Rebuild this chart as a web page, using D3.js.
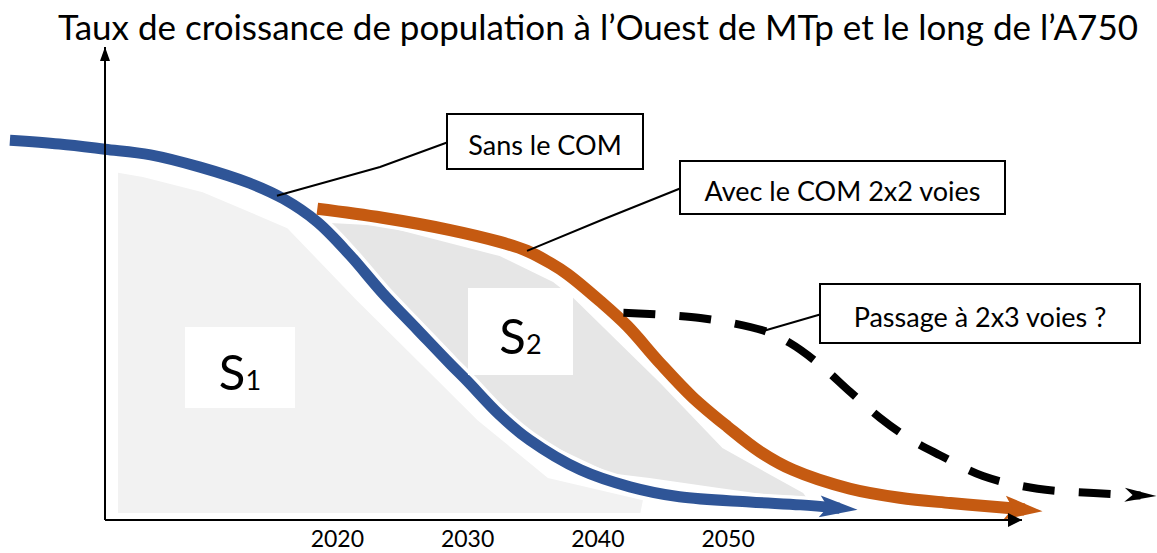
<!DOCTYPE html>
<html>
<head>
<meta charset="utf-8">
<script src="https://cdn.jsdelivr.net/npm/d3@7"></script>
<style>
  body { margin: 0; background: #fff; }
  svg { display: block; font-family: Lato, "Open Sans", sans-serif; }
</style>
</head>
<body>
<svg id="chart" width="1157" height="553"></svg>
<script>
// x = year, y = growth index (0-100, the sketch has no y scale)
var tickYears = [2020, 2030, 2040, 2050];
var xAxisFrom = 2002.2, xAxisTo = 2072.6, yAxisTop = 100;

var sansYears  = [1994.9, 1998.7, 2002.2, 2005.7, 2009.5, 2013.3, 2015.9, 2018.5, 2021.0, 2023.5, 2026.2, 2028.7, 2030.0, 2032.5, 2034.8, 2038.7, 2042.5, 2046.3, 2051.7, 2055.6, 2058.6];
var sansValues = [80.3, 79.5, 78.4, 77.2, 74.6, 71.2, 67.9, 63.0, 56.0, 48.0, 40.2, 33.0, 29.4, 22.2, 16.9, 10.6, 7.0, 4.9, 3.8, 3.2, 2.5];

var avecYears  = [2018.5, 2023.5, 2028.7, 2032.5, 2034.6, 2036.4, 2037.7, 2040.2, 2042.3, 2044.8, 2047.3, 2050.0, 2052.5, 2055.0, 2059.4, 2063.2, 2067.1, 2070.9, 2072.8];
var avecValues = [65.8, 63.9, 61.3, 58.8, 56.9, 54.3, 52.0, 46.3, 41.0, 33.2, 26.0, 19.7, 14.4, 10.6, 6.6, 4.7, 3.6, 2.7, 2.2];

var passageYears  = [2042.0, 2047.9, 2052.8, 2054.8, 2057.1, 2059.4, 2061.7, 2064.0, 2066.3, 2069.6, 2073.8, 2078.1, 2081.7];
var passageValues = [43.8, 42.7, 40.0, 37.4, 32.8, 27.1, 21.6, 17.1, 13.7, 9.3, 6.6, 5.7, 5.2];

// shaded surfaces S1 and S2, [year, value]
var s1Area = [[2003.2, 73.4], [2005.1, 72.5], [2009.7, 69.3], [2016.2, 61.7], [2021.5, 46.5], [2027.7, 29.6],
              [2030.8, 21.1], [2036.2, 8.9], [2043.5, 4.2], [2043.3, 1.5], [2003.2, 1.5]];
var s2Area = [[2019.5, 62.8], [2023.5, 62.2], [2032.5, 55.8], [2036.6, 50.3], [2038.1, 47.1], [2044.8, 29.0],
              [2049.6, 15.2], [2055.8, 5.7], [2056.2, 4.2], [2049.2, 6.8], [2044.0, 8.9], [2041.0, 9.9],
              [2035.6, 16.9], [2033.5, 20.5], [2030.8, 29.6], [2024.3, 48.2]];

var title = "Taux de croissance de population à l\u2019Ouest de MTp et le long de l\u2019A750";

var svg = d3.select("#chart");
var x = d3.scaleLinear().domain([xAxisFrom, xAxisTo]).range([105, 1022]);
var y = d3.scaleLinear().domain([0, yAxisTop]).range([520, 47]);

var zip = function (xs, ys) { return xs.map(function (d, i) { return [d, ys[i]]; }); };
var sans = zip(sansYears, sansValues),
    avec = zip(avecYears, avecValues),
    passage = zip(passageYears, passageValues);

// arrow heads
var defs = svg.append("defs");
function marker(id, d, color) {
  defs.append("marker").attr("id", id)
    .attr("markerUnits", "userSpaceOnUse").attr("orient", "auto")
    .attr("refX", 0).attr("refY", 0).attr("markerWidth", 1).attr("markerHeight", 1)
    .style("overflow", "visible")
    .append("path").attr("d", d).style("fill", color).style("stroke", "none");
}
marker("arBlue", "M-20,-11L18,0L-20,11L-12,0Z", "#2f5597");
marker("arOrange", "M-20,-12L18,0L-20,12L-12,0Z", "#c55a11");
marker("arDash", "M-16,-7L16,0L-16,7L-8,0Z", "#000");
marker("arAxisX", "M-14,-7L0,0L-14,7Z", "#000");
marker("arAxisY", "M-14,-5L0,0L-14,5Z", "#000");

// title, fitted to the sketch width
var t = svg.append("text").attr("x", 598).attr("y", 40).attr("text-anchor", "middle")
  .style("font-size", "30px").style("fill", "#000").text(title);
var tw = t.node().getComputedTextLength();
t.style("font-size", (30 * 1080 / tw) + "px");

// surfaces
var poly = d3.line().x(function (d) { return x(d[0]); }).y(function (d) { return y(d[1]); });
svg.append("path").attr("d", poly(s1Area) + "Z").style("fill", "#f2f2f2");
svg.append("path").attr("d", poly(s2Area) + "Z").style("fill", "#e6e6e6");

// curves
var curve = d3.line().x(function (d) { return x(d[0]); }).y(function (d) { return y(d[1]); })
  .curve(d3.curveCatmullRom.alpha(0.5));

var solid = [[sans, "#2f5597", 11, "arBlue"], [avec, "#c55a11", 12, "arOrange"]];
solid.forEach(function (s) {
  svg.append("path").attr("d", curve(s[0])).style("fill", "none")
    .style("stroke", "#fff").style("stroke-width", s[2] + 7);
});
solid.forEach(function (s) {
  svg.append("path").attr("d", curve(s[0])).style("fill", "none")
    .style("stroke", s[1]).style("stroke-width", s[2])
    .attr("marker-end", "url(#" + s[3] + ")");
});
svg.append("path").attr("d", curve(passage)).style("fill", "none")
  .style("stroke", "#000").style("stroke-width", 8).style("stroke-dasharray", "32,24")
  .attr("marker-end", "url(#arDash)");

// S1 / S2 labels
[[185, 327, 110, 81, "1"], [468, 288, 105, 87, "2"]].forEach(function (b) {
  svg.append("rect").attr("x", b[0]).attr("y", b[1]).attr("width", b[2]).attr("height", b[3])
    .style("fill", "#fff");
  var lt = svg.append("text").attr("x", b[0] + b[2] / 2).attr("y", b[1] + b[3] / 2 + 22)
    .attr("text-anchor", "middle").style("font-size", "49px").style("fill", "#000");
  lt.append("tspan").text("S");
  lt.append("tspan").style("font-size", "27px").text(b[4]);
});

// axes
svg.append("path")
  .attr("d", "M" + x(xAxisFrom) + "," + y(0) + "L" + x(xAxisFrom) + "," + y(yAxisTop))
  .style("stroke", "#000").style("stroke-width", 2).attr("marker-end", "url(#arAxisY)");
svg.append("path")
  .attr("d", "M" + x(xAxisFrom) + "," + y(0) + "L" + x(xAxisTo) + "," + y(0))
  .style("stroke", "#000").style("stroke-width", 2).attr("marker-end", "url(#arAxisX)");

var xAxis = svg.append("g").attr("transform", "translate(0," + y(0) + ")")
  .call(d3.axisBottom(x).tickValues(tickYears).tickFormat(d3.format("d")).tickSize(0).tickPadding(11));
xAxis.select(".domain").remove();
xAxis.selectAll("text").style("font-family", "Lato, 'Open Sans', sans-serif")
  .style("font-size", "23px").style("fill", "#000");

// callouts
var sansAt = d3.scaleLinear().domain(sansYears).range(sansValues);
var avecAt = d3.scaleLinear().domain(avecYears).range(avecValues);
var passageAt = d3.scaleLinear().domain(passageYears).range(passageValues);

var callouts = [
  { text: "Sans le COM", box: [447, 114, 196, 55], kink: [380, 167], year: 2015.4, at: sansAt },
  { text: "Avec le COM 2x2 voies", box: [680, 161, 325, 53], kink: [604, 219], year: 2034.6, at: avecAt },
  { text: "Passage à 2x3 voies ?", box: [820, 284, 320, 59], kink: null, year: 2052.8, at: passageAt }
];
callouts.forEach(function (c) {
  var b = c.box, sx = b[0], sy = b[1] + b[3] / 2 + 1;
  var pts = [[sx, sy]];
  if (c.kink) pts.push(c.kink);
  pts.push([x(c.year), y(c.at(c.year))]);
  svg.append("path").attr("d", d3.line()(pts)).style("fill", "none")
    .style("stroke", "#000").style("stroke-width", 2);
  svg.append("rect").attr("x", b[0]).attr("y", b[1]).attr("width", b[2]).attr("height", b[3])
    .style("fill", "#fff").style("stroke", "#000").style("stroke-width", 2);
  svg.append("text").attr("x", b[0] + b[2] / 2).attr("y", b[1] + b[3] / 2 + 13)
    .attr("text-anchor", "middle").style("font-size", "27px").style("fill", "#000").text(c.text);
});
</script>
</body>
</html>
